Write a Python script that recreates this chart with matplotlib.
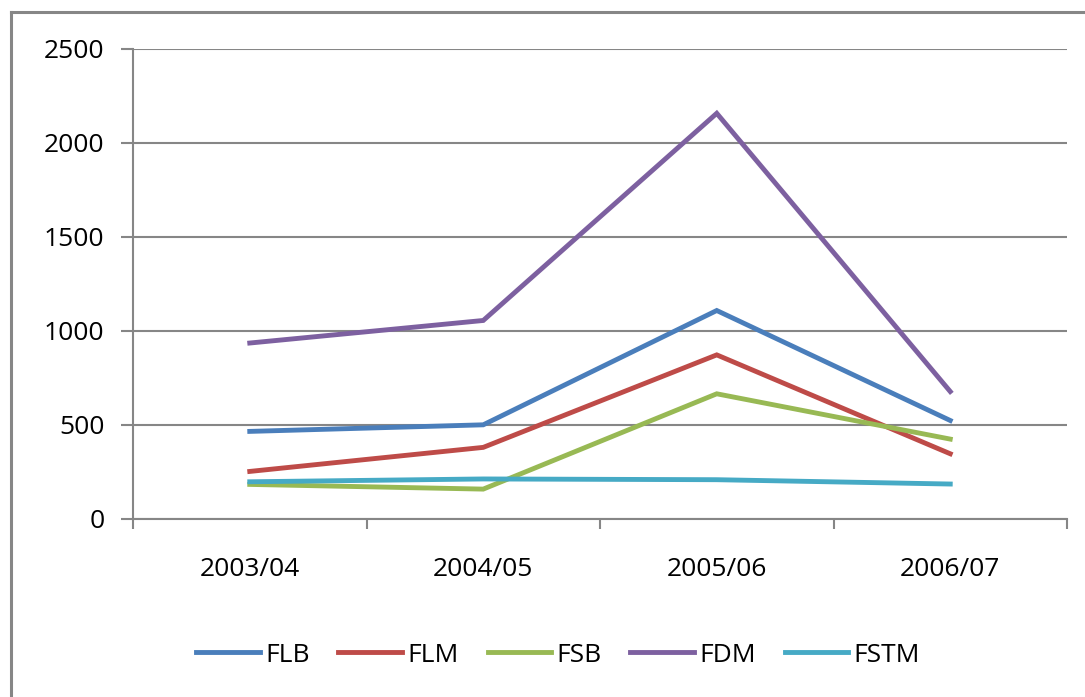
import matplotlib
matplotlib.use("Agg")
import matplotlib.pyplot as plt
from matplotlib.lines import Line2D
import numpy as np

plt.rcParams["font.family"] = ["Open Sans", "DejaVu Sans"]

YEARS = ["2003/04", "2004/05", "2005/06", "2006/07"]
FLB = [466, 501, 1109, 524]
FLM = [253, 381, 873, 347]
FSB = [184, 159, 666, 425]
FDM = [936, 1056, 2158, 678]
FSTM = [198, 213, 209, 186]

SERIES = [
    ("FLB", FLB, "#4A7EBB"),
    ("FLM", FLM, "#BE4B48"),
    ("FSB", FSB, "#98B954"),
    ("FDM", FDM, "#7D60A0"),
    ("FSTM", FSTM, "#46AAC5"),
]

GRAY = "#868686"
FONTSIZE = 19

W, H = 1085, 697
fig = plt.figure(figsize=(W / 100, H / 100), dpi=100)
ax = fig.add_axes([133 / W, 1 - 519 / H, (1067 - 133) / W, (519 - 49) / H])

x = np.arange(len(YEARS))
for name, vals, color in SERIES:
    ax.plot(x, vals, color=color, lw=3.5, label=name, solid_joinstyle="miter")

ax.set_xlim(-0.5, len(YEARS) - 0.5)
ax.set_ylim(0, 2500)
ax.set_yticks(np.arange(0, 2501, 500))
ax.grid(axis="y", color=GRAY, lw=1.5)
ax.set_axisbelow(True)

for side in ["top", "right"]:
    ax.spines[side].set_visible(False)
for side in ["left", "bottom"]:
    ax.spines[side].set_color(GRAY)
    ax.spines[side].set_linewidth(1.5)

ax.tick_params(axis="y", length=8.6, width=1.5, color=GRAY, pad=12,
               labelsize=FONTSIZE)
ax.set_xticks(x)
ax.set_xticklabels(YEARS)
ax.tick_params(axis="x", which="major", length=0, pad=27, labelsize=FONTSIZE)
ax.set_xticks(np.arange(-0.5, len(YEARS), 1.0), minor=True)
ax.tick_params(axis="x", which="minor", length=7, width=1.5, color=GRAY)

handles, labels = ax.get_legend_handles_labels()
fig.legend(
    handles, labels,
    loc="center",
    bbox_to_anchor=(558 / W, 1 - 655 / H),
    ncol=len(handles),
    frameon=False,
    fontsize=FONTSIZE,
    handlelength=2.4,
    handletextpad=0.2,
    columnspacing=1.1,
)

# outer chart frame (left and top edges visible in the crop)
fig.add_artist(Line2D([11 / W, 11 / W], [0, 1 - 12 / H], transform=fig.transFigure,
                      color=GRAY, lw=2.2))
fig.add_artist(Line2D([11 / W, 1], [1 - 12 / H, 1 - 12 / H], transform=fig.transFigure,
                      color=GRAY, lw=2.2))

fig.savefig("out.png", dpi=100)
